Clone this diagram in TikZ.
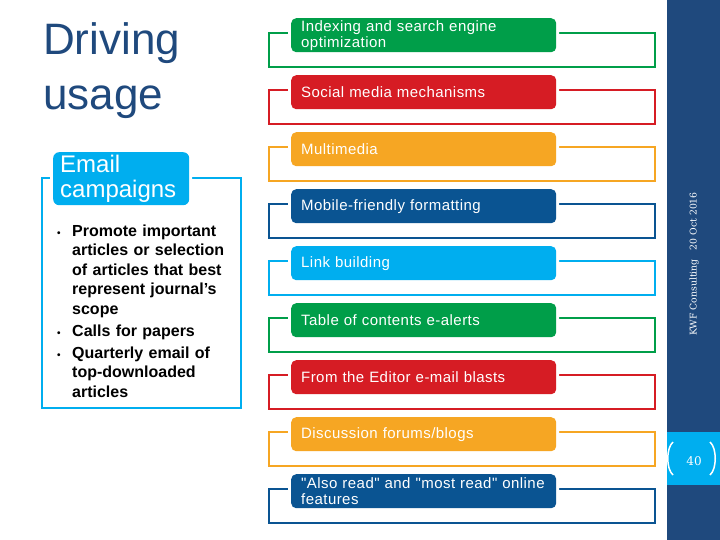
\documentclass[tikz,border=0pt]{standalone}
\usepackage{fontspec}
\setmainfont{Liberation Sans}
\newfontfamily\barfont{Liberation Sans}[LetterSpace=3]
\newfontfamily\sidefont{DejaVu Serif}

\definecolor{kgreen}{RGB}{0,158,73}
\definecolor{kred}{RGB}{214,28,36}
\definecolor{korange}{RGB}{246,166,35}
\definecolor{kdblue}{RGB}{10,84,146}
\definecolor{klblue}{RGB}{0,174,239}
\definecolor{kside}{RGB}{31,73,125}

% bullet line with hanging indent
\newcommand\ptitem{\par\noindent\hangindent=17pt\hangafter=1%
  \makebox[17pt][l]{\hspace{2pt}\fontsize{10}{10}\selectfont •}}

\tikzset{
  bar/.style={fill=#1, rounded corners=5pt, preaction={draw=white, line width=6pt},
    anchor=north west, minimum height=34pt, text width=245pt, inner xsep=10pt,
    inner ysep=1pt, align=left, text=white, font=\barfont\fontsize{15}{16}\selectfont},
  frame/.style={draw=#1, line width=2.5pt},
  title/.style={anchor=base west, inner sep=0pt, text=kside, font=\fontsize{44}{55}\selectfont},
}

\begin{document}
\begin{tikzpicture}[x=1pt, y=-1pt]
    \useasboundingbox (0,0) rectangle (720,540);

    % title
    \node[title] (ttl1) at (43,55) {Driving};
    \node[title] (ttl2) at (43,110) {usage};

    % left panel
    \draw[frame=klblue] (42,178) rectangle (241,408);
    \node[fill=klblue, rounded corners=6pt, preaction={draw=white, line width=6pt},
      anchor=north west, minimum width=136pt, minimum height=53pt, text width=122pt,
      inner xsep=7pt, inner ysep=1pt, align=left, text=white,
      font=\fontsize{24}{25}\selectfont] (tab) at (53,152) {Email\\campaigns};
    \node[anchor=north west, text width=175pt, inner sep=0pt, align=left,
      font=\bfseries\fontsize{16}{19.5}\selectfont] (pts) at (55,214)
      {\hyphenpenalty=10000\exhyphenpenalty=0\parskip=2.5pt
       \ptitem Promote important articles or selection of articles that best represent journal’s scope
       \ptitem Calls for papers
       \ptitem Quarterly email of top-downloaded articles\par};

    % channels
    \foreach \txt/\col [count=\i from 0] in {
        {Indexing and search engine\\optimization}/kgreen,
        Social media mechanisms/kred,
        Multimedia/korange,
        Mobile-friendly formatting/kdblue,
        Link building/klblue,
        Table of contents e-alerts/kgreen,
        From the Editor e-mail blasts/kred,
        {Discussion forums/blogs}/korange,
        {"Also read" and "most read" online\\features}/kdblue} {
        \pgfmathsetmacro\y{18+57*\i}
        \draw[frame=\col] (269,\y+15) rectangle (655,\y+49);
        \node[bar=\col] (bar\i) at (291,\y) {\txt};
    }

    % side strip
    \fill[kside] (667,0) rectangle (720,540);
    \fill[klblue] (667,432) rectangle (720,485);
    \node[rotate=90, text=white, font=\sidefont\fontsize{9.3}{11}\selectfont] (foot) at (694,264)
      {KWF Consulting\hspace{9pt}20 Oct 2016};
    \node[text=white, font=\sidefont\fontsize{12}{12}\selectfont] (pnum) at (694,461) {40};
    \draw[white, line width=1.5pt] (673,442) .. controls (666,448) and (666,469) .. (673,475);
    \draw[white, line width=1.5pt] (710,442) .. controls (717,448) and (717,469) .. (710,475);
\end{tikzpicture}
\end{document}
